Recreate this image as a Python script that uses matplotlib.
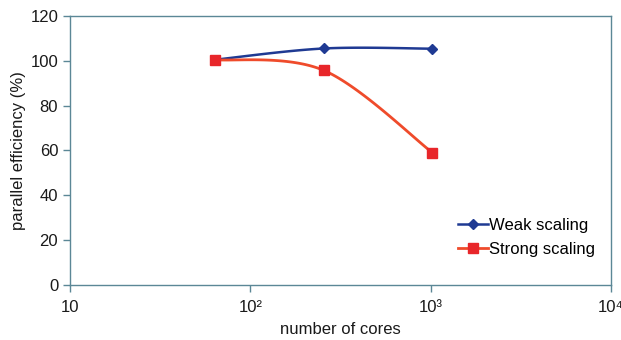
import numpy as np
import matplotlib
matplotlib.use("Agg")
import matplotlib.pyplot as plt

cores = [64, 256, 1024]
weak = [100.5, 105.5, 105.4]
strong = [100.5, 95.7, 59.0]
xticks = [10, 100, 1000, 10000]
xticklabels = ["10", "10\u00b2", "10\u00b3", "10\u2074"]
yticks = [0, 20, 40, 60, 80, 100, 120]

plt.rcParams['font.family'] = ['Liberation Sans', 'DejaVu Sans']


def smooth(xs, ys, n=40, t=1/6):
    lx = np.log10(np.asarray(xs, float))
    y = np.asarray(ys, float)
    px = np.concatenate([[lx[0]], lx, [lx[-1]]])
    py = np.concatenate([[y[0]], y, [y[-1]]])
    outx, outy = [], []
    for i in range(len(lx) - 1):
        p0 = np.array([px[i], py[i]])
        p1 = np.array([px[i + 1], py[i + 1]])
        p2 = np.array([px[i + 2], py[i + 2]])
        p3 = np.array([px[i + 3], py[i + 3]])
        c1 = p1 + (p2 - p0) * t
        c2 = p2 - (p3 - p1) * t
        s = np.linspace(0, 1, n)[:, None]
        b = ((1 - s) ** 3) * p1 + 3 * ((1 - s) ** 2) * s * c1 + 3 * (1 - s) * s ** 2 * c2 + s ** 3 * p2
        outx.extend(b[:, 0]); outy.extend(b[:, 1])
    return 10 ** np.array(outx), np.array(outy)


fig = plt.figure(figsize=(6.21, 3.40), dpi=100)
ax = fig.add_axes([0.1127, 0.162, 0.871, 0.791])

blue = '#1f3a93'
red = '#ef4b2b'
sx, sy = smooth(cores, weak)
ax.plot(sx, sy, color=blue, lw=1.8)
ax.plot(cores, weak, ls='none', marker='D', ms=5, color=blue)
sx, sy = smooth(cores, strong)
ax.plot(sx, sy, color=red, lw=2.0)
ax.plot(cores, strong, ls='none', marker='s', ms=6.5, color='#e8262a')

ax.plot([], [], color=blue, lw=1.8, marker='D', ms=5, label='Weak scaling')
ax.plot([], [], color=red, lw=2.0, marker='s', ms=6.5, mfc='#e8262a', mec='#e8262a', label='Strong scaling')

ax.set_xscale('log')
ax.set_xlim(10, 10000)
ax.set_ylim(0, 120)
ax.set_xticks(xticks)
ax.set_xticklabels(xticklabels)
ax.xaxis.set_minor_locator(matplotlib.ticker.NullLocator())
ax.set_yticks(yticks)

spine_c = '#5b8796'
for s in ax.spines.values():
    s.set_color(spine_c)
    s.set_linewidth(1.0)
ax.tick_params(axis='both', colors=spine_c, labelcolor='#1a1a1a', labelsize=12, length=5, width=1.0)
ax.tick_params(axis='x', pad=6)

ax.set_xlabel('number of cores', fontsize=12, color='#1a1a1a', labelpad=5)
ax.set_ylabel('parallel efficiency (%)', fontsize=12, color='#1a1a1a', labelpad=3)

leg = ax.legend(loc='lower right', bbox_to_anchor=(0.993, 0.06), frameon=False, fontsize=12,
                handlelength=1.8, handletextpad=0.1, labelspacing=0.55, borderaxespad=0.3)

fig.savefig('out.png', dpi=100)
